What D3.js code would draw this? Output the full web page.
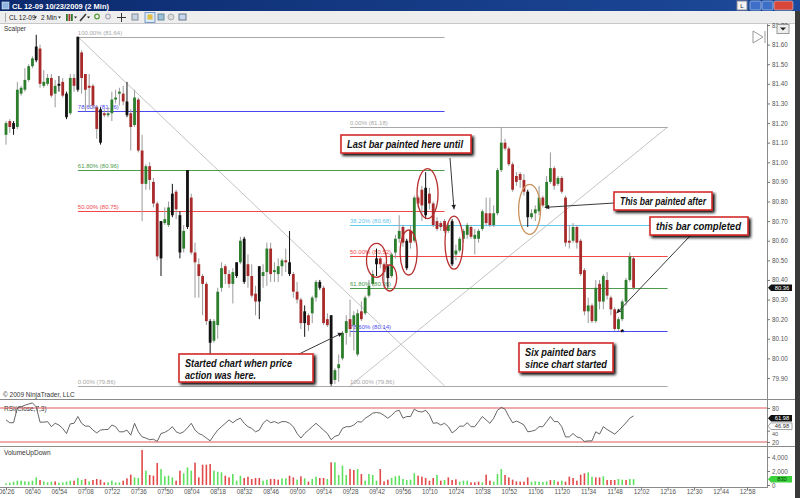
<!DOCTYPE html>
<html>
<head>
<meta charset="utf-8">
<script src="https://cdn.jsdelivr.net/npm/d3@7"></script>
<style>
  html, body { margin: 0; padding: 0; background: #fff; overflow: hidden; }
  svg { display: block; font-family: "Liberation Sans", Arial, sans-serif; }
</style>
</head>
<body>
<svg id="chart" width="800" height="498"></svg>
<script>
// ---- data (CL 12-09, 2 min bars, 10/23/2009) ----
const startTime = "06:26";
const barMinutes = 2;
const tickLabels = ["06:26","06:40","06:54","07:08","07:22","07:36","07:50","08:04","08:18","08:32",
  "08:46","09:00","09:14","09:28","09:42","09:56","10:10","10:24","10:38","10:52","11:06","11:20",
  "11:34","11:48","12:02","12:16","12:30","12:44","12:58"];
const priceTicks = [79.9,80.0,80.1,80.2,80.3,80.4,80.5,80.6,80.7,80.8,80.9,81.0,81.1,81.2,81.3,81.4,81.5,81.6,81.7];

const opens = [81.14,81.21,81.20,81.18,81.35,81.37,81.42,81.49,81.52,81.58,81.39,81.40,81.43,81.35,81.39,81.41,81.35,81.25,81.43,81.37,
  81.56,81.45,81.39,81.39,81.28,81.27,81.25,81.24,81.25,81.32,81.35,81.35,81.31,81.25,81.19,81.32,81.06,80.89,80.98,80.90,
  80.79,80.51,80.69,80.68,80.73,80.85,80.73,80.56,80.67,80.82,80.54,80.48,80.42,80.38,80.19,80.09,80.17,80.36,80.47,80.43,
  80.38,80.42,80.49,80.61,80.48,80.42,80.33,80.29,80.42,80.44,80.56,80.44,80.43,80.47,80.50,80.49,80.43,80.34,80.30,80.18,
  80.22,80.23,80.31,80.39,80.36,80.20,80.22,79.89,79.95,80.00,80.13,80.20,80.17,80.02,80.24,80.23,80.32,80.38,80.48,80.51,
  80.48,80.47,80.42,80.54,80.61,80.67,80.60,80.65,80.60,80.82,80.86,80.87,80.84,80.79,80.70,80.69,80.70,80.65,80.70,80.53,
  80.55,80.61,80.63,80.67,80.61,80.61,80.66,80.74,80.74,80.68,80.74,80.96,81.10,81.07,80.99,80.93,80.94,80.91,80.85,80.72,
  80.74,80.75,80.82,80.77,80.90,80.97,80.89,80.92,80.82,80.60,80.60,80.67,80.60,80.45,80.24,80.27,80.19,80.38,80.29,80.40,
  80.31,80.25,80.15,80.20,80.29,80.40,80.51];
const highs = [81.21,81.22,81.21,81.41,81.39,81.48,81.50,81.54,81.65,81.60,81.47,81.45,81.45,81.42,81.44,81.43,81.36,81.45,81.45,81.64,
  81.57,81.45,81.45,81.40,81.29,81.28,81.27,81.28,81.36,81.37,81.38,81.39,81.41,81.27,81.37,81.33,81.14,80.99,81.00,80.92,
  80.80,80.70,80.77,80.80,80.89,80.86,80.75,80.68,80.96,80.84,80.59,80.51,80.43,80.39,80.20,80.20,80.36,80.49,80.48,80.45,
  80.46,80.49,80.62,80.62,80.53,80.48,80.37,80.47,80.48,80.59,80.59,80.49,80.51,80.51,80.56,80.65,80.44,80.39,80.31,80.27,
  80.23,80.32,80.40,80.40,80.37,80.23,80.22,79.95,80.02,80.14,80.22,80.30,80.24,80.25,80.29,80.32,80.40,80.45,80.56,80.52,
  80.49,80.48,80.54,80.63,80.73,80.68,80.61,80.68,80.83,80.83,80.88,80.95,80.87,80.80,80.72,80.70,80.71,80.69,80.71,80.58,
  80.62,80.66,80.69,80.68,80.66,80.66,80.76,80.82,80.82,80.78,80.97,81.18,81.12,81.08,81.00,80.95,80.95,80.94,80.86,80.76,
  80.78,80.88,80.83,80.93,81.05,80.98,80.93,80.93,80.83,80.68,80.69,80.68,80.61,80.46,80.31,80.28,80.40,80.40,80.43,80.44,
  80.32,80.26,80.21,80.30,80.41,80.54,80.52];
const lows = [81.09,81.15,81.14,81.17,81.34,81.36,81.41,81.48,81.51,81.38,81.38,81.39,81.33,81.28,81.36,81.33,81.22,81.24,81.36,81.36,
  81.35,81.26,81.28,81.27,81.12,81.09,81.23,81.23,81.21,81.30,81.29,81.29,81.23,81.06,81.18,81.05,80.70,80.86,80.86,80.77,
  80.50,80.42,80.68,80.67,80.72,80.71,80.51,80.54,80.66,80.53,80.31,80.31,80.22,80.17,80.00,80.08,80.10,80.34,80.38,80.36,
  80.28,80.41,80.48,80.38,80.36,80.31,80.22,80.20,80.36,80.37,80.39,80.39,80.39,80.42,80.44,80.42,80.31,80.28,80.15,80.11,
  80.14,80.18,80.29,80.35,80.17,80.16,79.86,79.87,79.88,79.99,80.07,80.11,80.04,80.01,80.19,80.22,80.31,80.37,80.42,80.46,
  80.36,80.36,80.41,80.51,80.59,80.57,80.45,80.56,80.59,80.77,80.70,80.71,80.76,80.67,80.65,80.65,80.64,80.64,80.47,80.50,
  80.54,80.59,80.61,80.61,80.53,80.59,80.65,80.68,80.67,80.67,80.73,80.95,81.06,80.98,80.85,80.88,80.87,80.83,80.67,80.71,
  80.70,80.73,80.77,80.76,80.89,80.86,80.88,80.84,80.57,80.56,80.59,80.56,80.42,80.22,80.18,80.18,80.18,80.25,80.25,80.30,
  80.22,80.14,80.14,80.19,80.27,80.39,80.35];
const closes = [81.20,81.18,81.17,81.37,81.38,81.42,81.49,81.53,81.59,81.40,81.41,81.43,81.34,81.39,81.40,81.34,81.23,81.43,81.39,81.64,
  81.43,81.37,81.38,81.29,81.17,81.10,81.24,81.25,81.32,81.33,81.36,81.31,81.24,81.18,81.33,81.06,80.89,80.98,80.91,80.79,
  80.52,80.70,80.71,80.77,80.84,80.76,80.54,80.65,80.96,80.54,80.49,80.42,80.38,80.19,80.08,80.19,80.34,80.46,80.43,80.38,
  80.44,80.49,80.60,80.39,80.42,80.32,80.29,80.47,80.44,80.56,80.43,80.45,80.47,80.50,80.49,80.43,80.34,80.30,80.18,80.24,
  80.17,80.31,80.39,80.36,80.18,80.17,79.87,79.94,79.97,80.13,80.19,80.15,80.22,80.23,80.20,80.31,80.37,80.43,80.51,80.48,
  80.44,80.41,80.53,80.61,80.65,80.59,80.46,80.59,80.82,80.79,80.78,80.73,80.79,80.68,80.66,80.67,80.65,80.68,80.48,80.55,
  80.61,80.65,80.68,80.62,80.63,80.65,80.75,80.69,80.68,80.74,80.96,81.10,81.07,80.99,80.86,80.90,80.91,80.85,80.72,80.74,
  80.76,80.82,80.78,80.90,80.97,80.88,80.92,80.85,80.59,80.59,80.67,80.59,80.43,80.24,80.27,80.19,80.36,80.29,80.42,80.32,
  80.25,80.15,80.20,80.29,80.40,80.52,80.36];

// bars painted black by the Scalper indicator
const paintedBars = [2,8,14,16,19,25,32,41,44,46,48,54,61,63,67,75,79,83,86,98,101,106,111,118,138];

const volumes = [240,330,480,620,620,520,480,620,1090,710, 520,380,480,520,330,380,480,620,620,1000,
  710,860,520,710,860,760,380,380,620,380, 380,620,950,1480,1090,1000,5000,2050,1430,1330,
  3140,2280,1240,1330,1090,620,2050,1670,2520,2050, 3190,1090,2900,2900,3000,2050,1900,1810,1330,1090,
  1570,620,1330,1000,1190,860,1000,1000,620,760, 860,860,760,950,950,1330,1090,760,1240,950,
  480,860,1190,1000,1000,860,3240,3240,1430,2760, 1430,2280,2140,2280,1570,620,1570,1430,620,2280,
  520,760,1000,1240,1330,860,710,760,1670,1330, 1190,1000,620,1000,1430,620,710,1090,710,810,
  480,620,620,380,380,480,380,1480,620,480, 1570,2280,1430,1090,760,520,480,480,1090,480,
  520,480,430,520,710,710,480,620,480,1190, 1000,620,1480,1670,1810,1190,1090,1090,1240,710,
  710,710,860,760,710,860,830];
const volumeDirs = "gggggggggrgggrggggrggrgrrrrggggrrrggrgrrrggggrrgggrrrrrgggrrgggrrrrrggrrrggrrgrgrggrrgrggggrrgrggggr" +
  "rrgggggggrrrrrgrgrrrgggrrrgrrgggrrrrrrrgggggrgrgrrrrrrggrrgrrrggrgg";

const rsiValues = [59,54,54,80,82,85,87,89,82,55, 55,56,47,53,50,44,35,52,53,65, 53,48,48,41,36,41,42,42,50,47,
  38,38,41,32,53,38,29,27,24,25, 21,35,37,41,47,38,35,38,45,53, 41,35,32,27,22,32,41,47,53,59,
  54,59,62,53,47,44,38,41,53,59, 54,56,53,56,56,53,47,35,27,35, 41,47,53,47,41,35,24,30,32,44,
  47,47,50,56,55,62,66,71,72,71, 67,62,67,74,76,62,65,65,78,74, 73,76,68,53,54,50,53,47,36,41,
  48,48,54,47,47,56,65,59,53,62, 76,81,78,65,54,57,54,50,38,39, 41,47,47,56,65,56,56,47,29,29,
  35,29,27,21,22,22,38,34,47,42, 38,34,40,47,54,62,66];
const rsiTicks = [20, 40, 80];
const rsiBands = [80, 20];
const volumeTicks = [0, 2000, 4000];

// Fibonacci retracements: [anchor start bar, anchor end bar]
const fib1Bars = [19, 116];
const fib1Pct = [100, 78.6, 61.8, 50, 0];
const fib1Prices = [81.64, 81.26, 80.96, 80.75, 79.86];
const fib2Bars = [91, 175];
const fib2Pct = [0, 38.2, 50, 61.8, 78.6, 100];
const fib2Prices = [81.18, 80.68, 80.52, 80.36, 80.14, 79.86];

// ---- drawing ----
const svg = d3.select("#chart");
const W = 800, H = 498;
const axisX = 767;

const parseT = d3.timeParse("%H:%M");
const t0 = parseT(startTime);
const barTime = (i) => d3.timeMinute.offset(t0, i * barMinutes);

const x = d3.scaleTime()
  .domain([parseT("06:26"), parseT("12:58")])
  .range([6, 747]);
const xb = (i) => x(barTime(i));
const y = d3.scaleLinear().domain([79.9, 81.7]).range([378, 25]);
const yRsi = d3.scaleLinear().domain([20, 80]).range([442, 408]);
const yVol = d3.scaleLinear().domain([0, 4000]).range([485, 457]);

const fibColor = (p) => p === 0 || p === 100 ? "#a8a8a8" : p === 38.2 ? "#5fc8ec" : p === 50 ? "#f04848" : p === 61.8 ? "#4c9a4c" : "#4848f0";

const defs = svg.append("defs");
const shadow = defs.append("filter").attr("id", "drop-shadow").attr("height", "150%").attr("width", "130%");
shadow.append("feGaussianBlur").attr("in", "SourceAlpha").attr("stdDeviation", 1.5).attr("result", "blur");
shadow.append("feOffset").attr("in", "blur").attr("dx", 2).attr("dy", 2).attr("result", "offsetBlur");
const feMerge = shadow.append("feMerge");
feMerge.append("feMergeNode").attr("in", "offsetBlur");
feMerge.append("feMergeNode").attr("in", "SourceGraphic");

const titleGrad = defs.append("linearGradient").attr("id", "titleGrad").attr("x1", 0).attr("x2", 1);
titleGrad.append("stop").attr("offset", 0).attr("stop-color", "#0c2a6e");
titleGrad.append("stop").attr("offset", 1).attr("stop-color", "#1d4a9a");

svg.append("rect").attr("width", W).attr("height", H).attr("fill", "#fff");

// window title + toolbar
svg.append("rect").attr("width", W).attr("height", 11).attr("fill", "url(#titleGrad)");
svg.append("rect").attr("x", 2).attr("y", 2).attr("width", 7).attr("height", 7).attr("fill", "#8fb4e0").attr("stroke", "#fff").attr("stroke-width", 0.5);
svg.append("text").attr("x", 12).attr("y", 8.6).attr("fill", "#fff").attr("font-size", 7.5).attr("font-weight", "bold")
  .text("CL 12-09  10/23/2009 (2 Min)");
svg.append("rect").attr("x", 737).attr("y", 1).attr("width", 10).attr("height", 9).attr("fill", "#f4f4f4").attr("stroke", "#889");
svg.append("text").attr("x", 742).attr("y", 8.3).attr("text-anchor", "middle").attr("font-size", 6).attr("fill", "#223").text("L");
[[750, "#3d6fc8"], [762, "#3d6fc8"], [774, "#d8473a"]].forEach(([bx, c]) => {
  svg.append("rect").attr("x", bx).attr("y", 1).attr("width", bx === 774 ? 19 : 11).attr("height", 9).attr("rx", 1.5)
    .attr("fill", c).attr("stroke", "#dfe8f8").attr("stroke-width", 0.5);
});
svg.append("rect").attr("y", 11).attr("width", W).attr("height", 13).attr("fill", "#eeeeee");
svg.append("line").attr("x1", 0).attr("x2", W).attr("y1", 23.5).attr("y2", 23.5).attr("stroke", "#c8c8c8");
const tb = svg.append("g").attr("font-size", 6.5).attr("fill", "#222");
const dropArrow = (ax) => tb.append("path").attr("d", `M${ax},16.5h3l-1.5,2z`).attr("fill", "#222");
tb.append("line").attr("x1", 5.5).attr("x2", 5.5).attr("y1", 13).attr("y2", 22).attr("stroke", "#aaa");
tb.append("text").attr("x", 9).attr("y", 20).text("CL 12-09");
dropArrow(34);
tb.append("text").attr("x", 41).attr("y", 20).text("2 Min");
dropArrow(58);
[[66, "#2e7d2e"], [68.5, "#b03030"], [71, "#2e7d2e"]].forEach(([bx, c]) => tb.append("rect").attr("x", bx).attr("y", 14).attr("width", 1.8).attr("height", 7).attr("fill", c));
dropArrow(74);
tb.append("line").attr("x1", 80).attr("y1", 21).attr("x2", 86).attr("y2", 14).attr("stroke", "#333").attr("stroke-width", 1.5);
dropArrow(87);
tb.append("circle").attr("cx", 97).attr("cy", 16.5).attr("r", 2.3).attr("fill", "none").attr("stroke", "#5a9a3a").attr("stroke-width", 1.2);
tb.append("circle").attr("cx", 108).attr("cy", 16.5).attr("r", 2.3).attr("fill", "none").attr("stroke", "#aab").attr("stroke-width", 1.2);
tb.append("path").attr("d", "M117,17.5h9M121.5,13v9").attr("stroke", "#333");
tb.append("rect").attr("x", 132).attr("y", 14).attr("width", 6).attr("height", 6).attr("fill", "#c9d6e6").attr("stroke", "#889");
tb.append("rect").attr("x", 145).attr("y", 12.5).attr("width", 10).attr("height", 10).attr("fill", "#dbe8f6").attr("stroke", "#7a9cc8");
tb.append("rect").attr("x", 147.5).attr("y", 14.5).attr("width", 5).attr("height", 5).attr("fill", "#e0c040");
tb.append("rect").attr("x", 158).attr("y", 14).attr("width", 6).attr("height", 6).attr("fill", "#9bc0d8").attr("stroke", "#689");
tb.append("circle").attr("cx", 171).attr("cy", 17).attr("r", 3).attr("fill", "#dcdcdc").attr("stroke", "#aaa");
tb.append("rect").attr("x", 179).attr("y", 14).attr("width", 7).attr("height", 6).attr("fill", "#c8d8ec").attr("stroke", "#678");

// panels and frame
const frame = svg.append("g").attr("stroke", "#8a8a8a").attr("stroke-width", 1);
frame.append("line").attr("x1", 0).attr("x2", 795).attr("y1", 399.5).attr("y2", 399.5);
frame.append("line").attr("x1", 0).attr("x2", 795).attr("y1", 446.5).attr("y2", 446.5);
frame.append("line").attr("x1", 0).attr("x2", axisX).attr("y1", 487.5).attr("y2", 487.5);
frame.append("line").attr("x1", axisX + 0.5).attr("x2", axisX + 0.5).attr("y1", 24).attr("y2", 488);
svg.append("rect").attr("x", 795).attr("y", 11).attr("width", 5).attr("height", H - 11).attr("fill", "#3a3a3a");

svg.append("text").attr("x", 4).attr("y", 31).attr("font-size", 6.5).attr("fill", "#333").text("Scalper");
svg.append("text").attr("x", 3).attr("y", 397).attr("font-size", 6.5).attr("fill", "#333").text("\u00A9 2009 NinjaTrader, LLC");
svg.append("text").attr("x", 4).attr("y", 411).attr("font-size", 6.5).attr("fill", "#333").text("RSI(Close,7,3)");
svg.append("text").attr("x", 4).attr("y", 455).attr("font-size", 6.5).attr("fill", "#333").text("VolumeUpDown");

// Fibonacci retracements
const drawFib = (bars, pct, prices, pctFirst) => {
  const g = svg.append("g");
  const xa = xb(bars[0]), xe = xb(bars[1]);
  const pStart = prices[pctFirst ? 0 : prices.length - 1];
  const pEnd = prices[pctFirst ? prices.length - 1 : 0];
  g.append("line").attr("x1", xa).attr("y1", y(pStart)).attr("x2", xe).attr("y2", y(pEnd))
    .attr("stroke", "#b4b4b4").attr("stroke-width", 0.8);
  pct.forEach((p, k) => {
    g.append("line").attr("x1", xa).attr("x2", xe).attr("y1", Math.round(y(prices[k])) + 0.5).attr("y2", Math.round(y(prices[k])) + 0.5)
      .attr("stroke", fibColor(p)).attr("stroke-width", 1);
    g.append("text").attr("x", xa).attr("y", y(prices[k]) - 2).attr("font-size", 6).attr("fill", fibColor(p))
      .text(`${p.toFixed(2)}% (${prices[k].toFixed(2)})`);
  });
};
drawFib(fib1Bars, fib1Pct, fib1Prices, true);
drawFib(fib2Bars, fib2Pct, fib2Prices, false);

// candles
const bars = d3.range(opens.length).map((i) => ({
  i, o: opens[i], h: highs[i], l: lows[i], c: closes[i], painted: paintedBars.includes(i),
}));
const candle = svg.append("g").selectAll("g").data(bars).enter().append("g");
candle.append("line")
  .attr("x1", (d) => xb(d.i)).attr("x2", (d) => xb(d.i))
  .attr("y1", (d) => y(d.h)).attr("y2", (d) => y(d.l))
  .attr("stroke", (d) => d.painted ? "#111" : "#9a9a9a").attr("stroke-width", 1);
candle.append("rect")
  .attr("x", (d) => xb(d.i) - 1.4).attr("width", 2.8)
  .attr("y", (d) => y(Math.max(d.o, d.c)))
  .attr("height", (d) => Math.max(1, Math.abs(y(d.o) - y(d.c))))
  .attr("fill", (d) => d.painted ? "#111" : d.c >= d.o ? "#2c7d2c" : "#a82a2a");

// volume
svg.append("g").selectAll("rect").data(volumes).enter().append("rect")
  .attr("x", (d, i) => xb(i) - 0.8).attr("width", 1.6)
  .attr("y", (d) => yVol(d)).attr("height", (d) => yVol(0) - yVol(d))
  .attr("fill", (d, i) => volumeDirs[i] === "g" ? "#5ee05e" : "#e24a4a");

// RSI
rsiBands.forEach((b) => {
  svg.append("line").attr("x1", 0).attr("x2", axisX).attr("y1", yRsi(b)).attr("y2", yRsi(b))
    .attr("stroke", "#e05a5a").attr("stroke-width", 1);
});
svg.append("path").datum(rsiValues)
  .attr("d", d3.line().x((d, i) => xb(i)).y((d) => yRsi(d)))
  .attr("fill", "none").attr("stroke", "#555").attr("stroke-width", 0.9);

// axes
const styleAxis = (g) => {
  g.select(".domain").remove();
  g.selectAll("text").attr("font-size", 6.3).attr("fill", "#555");
  g.selectAll("line").attr("stroke", "#777");
};
svg.append("g").attr("transform", `translate(${axisX},0)`)
  .call(d3.axisRight(y).tickValues(priceTicks).tickSize(3).tickPadding(2).tickFormat(d3.format(".2f")))
  .call(styleAxis);
const rsiAxis = svg.append("g").attr("transform", `translate(${axisX},0)`)
  .call(d3.axisRight(yRsi).tickValues(rsiTicks).tickSize(3).tickPadding(2))
  .call(styleAxis);
// the 40 label sits partly under the value tags, as in the original
rsiAxis.selectAll(".tick").filter((d) => d === 40).select("text").attr("dy", "0.85em").attr("font-size", 5.5);
svg.append("g").attr("transform", `translate(${axisX},0)`)
  .call(d3.axisRight(yVol).tickValues(volumeTicks).tickSize(3).tickPadding(2))
  .call(styleAxis);
svg.append("g").attr("transform", "translate(0,487)")
  .call(d3.axisBottom(x).tickValues(tickLabels.map(parseT)).tickSize(3).tickPadding(0).tickFormat(d3.timeFormat("%H:%M")))
  .call(styleAxis);

// value tags on the right axis
const tag = (ty, label, fill, textFill, stroke) => {
  const g = svg.append("g").attr("transform", `translate(${axisX + 1},${ty})`);
  g.append("path").attr("d", "M0,0L3,-3.3H24V3.3H3Z").attr("fill", fill).attr("stroke", stroke || "none").attr("stroke-width", 0.6);
  g.append("text").attr("x", 14).attr("y", 2.2).attr("text-anchor", "middle").attr("font-size", 5.8).attr("fill", textFill).text(label);
};
tag(y(closes[closes.length - 1]), closes[closes.length - 1].toFixed(2), "#111", "#fff");
tag(yRsi(61.98), "61.98", "#111", "#fff");
tag(yRsi(46.98) - 0.5, "46.98", "#fff", "#333", "#666");
tag(yVol(volumes[volumes.length - 1]), String(volumes[volumes.length - 1]), "#3bd23b", "#0a3a0a");

// top-right chart icons
svg.append("path").attr("d", "M753,31L763,37L753,43Z M765,31V43").attr("fill", "none").attr("stroke", "#999").attr("stroke-width", 1);
svg.append("rect").attr("x", 777).attr("y", 24.5).attr("width", 12).attr("height", 9).attr("fill", "#eee").attr("stroke", "#999");
svg.append("path").attr("d", "M780,27.5h6l-3,3z").attr("fill", "#222");

// hand-drawn circles around painted bars
const rings = [
  { bar: 98.1, price: 80.50, rx: 10, ry: 17, color: "#b83030" },
  { bar: 101.6, price: 80.41, rx: 7, ry: 13, color: "#b83030" },
  { bar: 106.9, price: 80.54, rx: 8.5, ry: 22.5, color: "#b83030" },
  { bar: 111.6, price: 80.84, rx: 10.5, ry: 25, color: "#b83030" },
  { bar: 118.8, price: 80.59, rx: 9, ry: 26.5, color: "#b83030" },
  { bar: 138.9, price: 80.76, rx: 11, ry: 25, color: "#c8905a" },
];
rings.forEach((r) => {
  svg.append("ellipse").attr("cx", xb(r.bar)).attr("cy", y(r.price)).attr("rx", r.rx).attr("ry", r.ry)
    .attr("fill", "none").attr("stroke", r.color).attr("stroke-width", 1.3);
});
svg.append("text").attr("x", xb(163.2)).attr("y", y(80.12)).attr("text-anchor", "middle").attr("font-size", 9)
  .attr("font-weight", "bold").text("*");

// callouts
const callouts = [
  { x: 179, y: 354, w: 134, h: 28, lines: ["Started chart when price", "action was here."], widths: [107, 71],
    from: [297, 355], to: { bar: 89, price: 80.13 } },
  { x: 341, y: 135, w: 130, h: 18, lines: ["Last bar painted here until"], widths: [116],
    from: [450, 158], to: { bar: 118.8, price: 80.76 } },
  { x: 614, y: 192, w: 98, h: 18, lines: ["This bar painted after"], widths: [86],
    from: [614, 203], to: { bar: 142.9, price: 80.77 } },
  { x: 650, y: 217, w: 98, h: 18, lines: ["this bar completed"], widths: [85],
    from: [690, 236], to: { bar: 161.6, price: 80.23 } },
  { x: 519, y: 343, w: 94, h: 29, lines: ["Six painted bars", "since chart started"], widths: [71, 82] },
];
callouts.forEach((c) => {
  if (c.to) {
    const tx = xb(c.to.bar), ty = y(c.to.price);
    const ang = Math.atan2(ty - c.from[1], tx - c.from[0]);
    svg.append("line").attr("x1", c.from[0]).attr("y1", c.from[1]).attr("x2", tx).attr("y2", ty)
      .attr("stroke", "#3a3a3a").attr("stroke-width", 1);
    const a1 = ang + Math.PI * 0.85, a2 = ang - Math.PI * 0.85;
    svg.append("path")
      .attr("d", `M${tx},${ty}L${tx + 5 * Math.cos(a1)},${ty + 5 * Math.sin(a1)}L${tx + 5 * Math.cos(a2)},${ty + 5 * Math.sin(a2)}Z`)
      .attr("fill", "#222");
  }
  const g = svg.append("g");
  g.append("rect").attr("x", c.x).attr("y", c.y).attr("width", c.w).attr("height", c.h)
    .attr("fill", "#fff").attr("stroke", "#d42a2a").attr("stroke-width", 1.6)
    .style("filter", "url(#drop-shadow)");
  c.lines.forEach((ln, k) => {
    g.append("text").attr("x", c.x + 6).attr("y", c.y + 12.5 + k * 12)
      .attr("font-size", 10).attr("font-weight", "bold").attr("font-style", "italic").attr("fill", "#111")
      .attr("textLength", c.widths[k]).attr("lengthAdjust", "spacingAndGlyphs")
      .text(ln);
  });
});
</script>
</body>
</html>
